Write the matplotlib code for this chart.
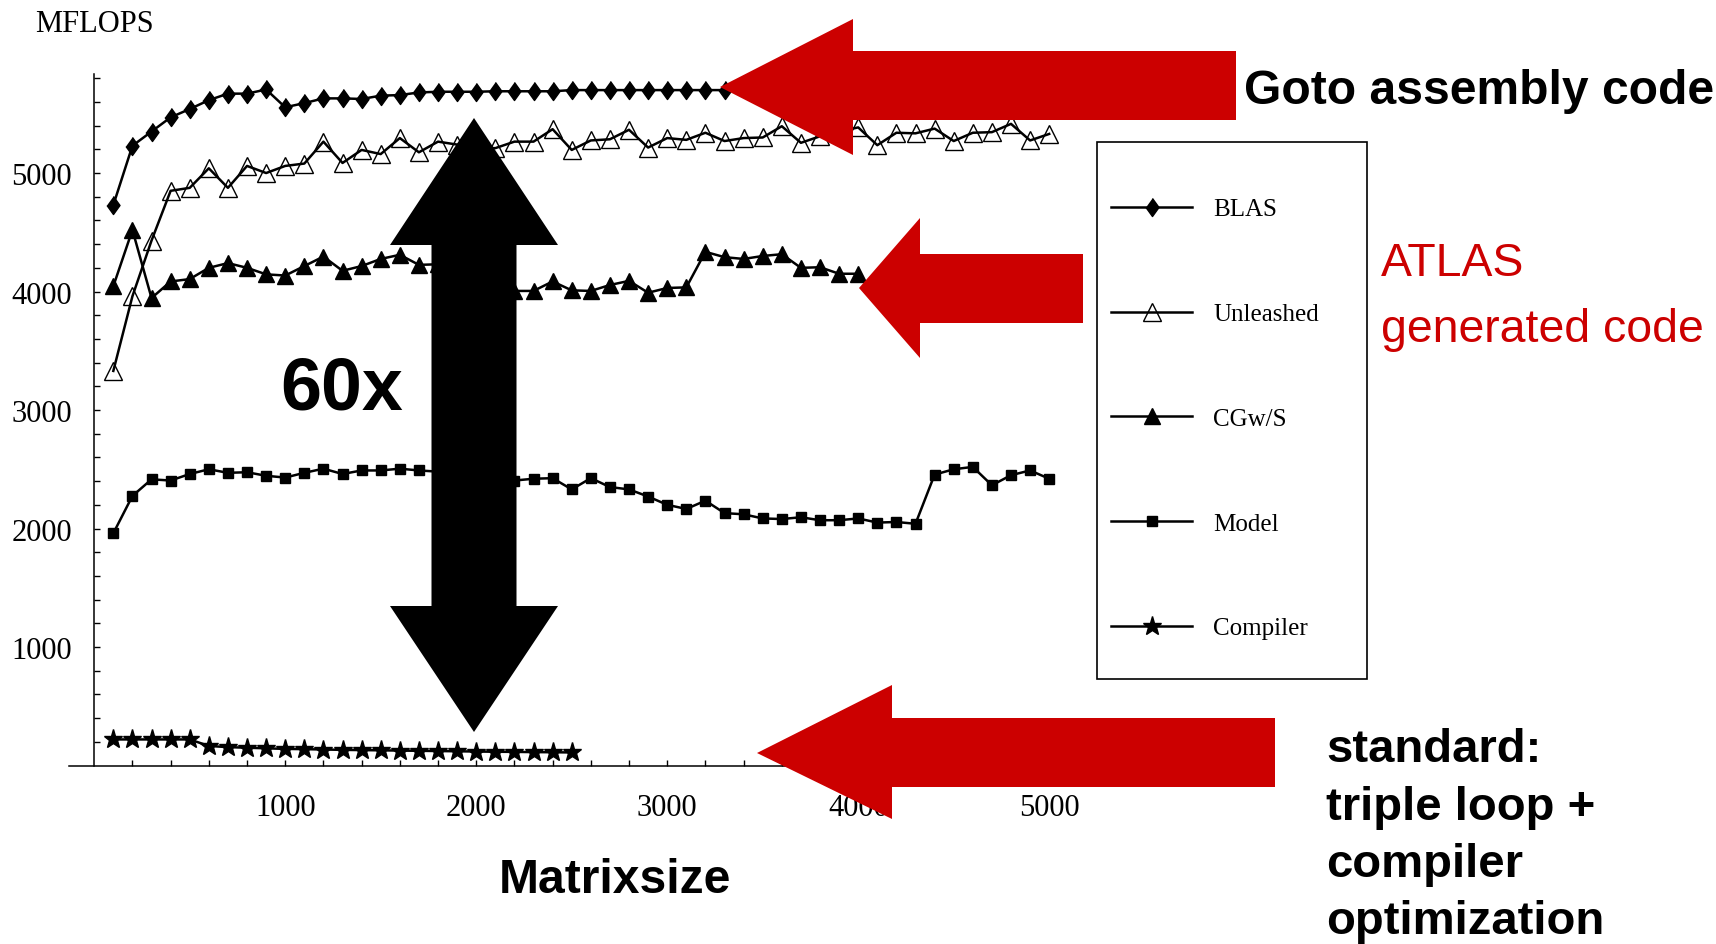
import matplotlib
matplotlib.use("Agg")
import matplotlib.pyplot as plt
from matplotlib.patches import Polygon, Rectangle

# matrix sizes (x) and MFLOPS per code version
sizes = list(range(100, 5100, 100))

blas = [4730, 5230, 5350, 5470, 5540, 5615, 5670, 5670, 5705, 5555,
        5590, 5630, 5630, 5625, 5653, 5658, 5680, 5686, 5686, 5686,
        5690, 5690, 5690, 5690, 5700, 5700, 5700, 5700, 5700, 5700,
        5700, 5700, 5700]

unleashed = [3330, 3960, 4430, 4850, 4875, 5040, 4875, 5060, 5000, 5060,
             5080, 5265, 5085, 5195, 5160, 5295, 5175, 5265, 5240, 5215,
             5210, 5265, 5265, 5370, 5195, 5275, 5285, 5365, 5215, 5295,
             5280, 5340, 5270, 5295, 5300, 5395, 5255, 5310, 5350, 5385,
             5235, 5340, 5335, 5375, 5270, 5340, 5345, 5415, 5275, 5330]

cgws = [4045, 4520, 3945, 4085, 4105, 4200, 4240, 4200, 4145, 4135,
        4215, 4295, 4175, 4215, 4275, 4310, 4225, 4230, 4180, 4100,
        4050, 4005, 4005, 4085, 4010, 4005, 4055, 4090, 3990, 4030,
        4035, 4335, 4290, 4275, 4300, 4315, 4200, 4205, 4150, 4150]

model = [1960, 2275, 2415, 2405, 2460, 2500, 2470, 2475, 2445, 2430,
         2470, 2505, 2460, 2490, 2490, 2505, 2490, 2480, 2470, 2450,
         2420, 2405, 2420, 2425, 2330, 2425, 2350, 2330, 2270, 2200,
         2165, 2235, 2130, 2120, 2085, 2080, 2095, 2070, 2070, 2085,
         2050, 2055, 2040, 2455, 2500, 2520, 2365, 2450, 2490, 2420]

compiler = [220, 220, 220, 220, 220, 165, 155, 150, 145, 140,
            138, 135, 132, 130, 128, 126, 124, 122, 120, 118,
            116, 115, 113, 112, 110]

x_labels = [1000, 2000, 3000, 4000, 5000]
y_labels = [1000, 2000, 3000, 4000, 5000]

W, H = 1716, 945
RED = '#cc0000'
SERIF = 'Liberation Serif'
SANS = 'Liberation Sans'

plt.rcParams['font.family'] = SERIF


def fx(px):
    return px / W


def fy(py):
    return 1 - py / H


fig = plt.figure(figsize=(W / 100, H / 100), dpi=100)
ax = fig.add_axes([fx(69.4), fy(766.5), 1037.1 / W, 692 / H])

diamond = [(0, 1), (0.72, 0), (0, -1), (-0.72, 0)]
lw = 1.8
ax.plot(sizes[:len(blas)], blas, color='black', lw=lw, marker=diamond,
        ms=13, mfc='black', mec='black', label='BLAS')
ax.plot(sizes[:len(unleashed)], unleashed, color='black', lw=lw, marker='^',
        ms=12.5, mfc='none', mec='black', mew=1.0, label='Unleashed')
ax.plot(sizes[:len(cgws)], cgws, color='black', lw=lw, marker='^',
        ms=12, mfc='black', mec='black', label='CGw/S')
ax.plot(sizes[:len(model)], model, color='black', lw=lw, marker='s',
        ms=7.5, mfc='black', mec='black', label='Model')
ax.plot(sizes[:len(compiler)], compiler, color='black', lw=lw, marker='*',
        ms=14, mfc='black', mec='black', label='Compiler')

ax.set_xlim(-130, 5300)
ax.set_ylim(0, 5840)
ax.spines['top'].set_visible(False)
ax.spines['right'].set_visible(False)
ax.spines['left'].set_position(('data', 0))
ax.spines['left'].set_linewidth(1.1)
ax.spines['bottom'].set_linewidth(1.1)

ax.set_xticks(x_labels)
ax.set_xticks(range(200, 5300, 200), minor=True)
ax.set_yticks(y_labels)
ax.set_yticks(range(200, 5900, 200), minor=True)
ax.tick_params(which='both', direction='in', length=4.5, width=1.0)
ax.tick_params(which='major', labelsize=22)
ax.tick_params(axis='y', which='major', pad=16)
ax.tick_params(axis='x', which='major', pad=20)

leg = ax.legend(frameon=False, loc='upper left',
                bbox_to_anchor=(fx(1111), fy(199)),
                bbox_transform=fig.transFigure,
                prop={'family': SERIF, 'size': 18},
                handlelength=3.24, handletextpad=0.84, labelspacing=3.29,
                borderpad=0, borderaxespad=0)
fig.add_artist(Rectangle((fx(1097), fy(680)), (1367 - 1097) / W, (680 - 143) / H,
                         transform=fig.transFigure, fill=False,
                         edgecolor='black', lw=1.2))


def left_arrow(tip_x, tip_y, head_x, head_top, head_bot, body_top, body_bot, end_x):
    pts = [(tip_x, tip_y), (head_x, head_top), (head_x, body_top), (end_x, body_top),
           (end_x, body_bot), (head_x, body_bot), (head_x, head_bot)]
    return Polygon([(fx(a), fy(b)) for a, b in pts], closed=True,
                   transform=fig.transFigure, facecolor=RED, edgecolor='none', zorder=5)


def double_arrow(cx, top, top_base, bot_base, bot, half_head, half_shaft):
    pts = [(cx, top), (cx + half_head, top_base), (cx + half_shaft, top_base),
           (cx + half_shaft, bot_base), (cx + half_head, bot_base), (cx, bot),
           (cx - half_head, bot_base), (cx - half_shaft, bot_base),
           (cx - half_shaft, top_base), (cx - half_head, top_base)]
    return Polygon([(fx(a), fy(b)) for a, b in pts], closed=True,
                   transform=fig.transFigure, facecolor='black', edgecolor='none', zorder=5)


fig.add_artist(left_arrow(720, 88, 853, 20, 156, 52, 121, 1236))
fig.add_artist(left_arrow(859, 289, 920, 219, 359, 255, 324, 1083))
fig.add_artist(left_arrow(757, 754, 892, 686, 820, 719, 788, 1275))
fig.add_artist(double_arrow(474, 119, 246, 607, 733, 84, 42.5))

fig.text(fx(35), fy(24), 'MFLOPS', ha='left', va='center', fontsize=22, family=SERIF)
fig.text(fx(1244), fy(91), 'Goto assembly code', ha='left', va='center',
         fontsize=34.6, fontweight='bold', family=SANS)
fig.text(fx(1381), fy(264.5), 'ATLAS', ha='left', va='center', fontsize=33.4,
         color=RED, family=SANS)
fig.text(fx(1381), fy(329.5), 'generated code', ha='left', va='center', fontsize=33.4,
         color=RED, family=SANS)
fig.text(fx(342), fy(390.5), '60x', ha='center', va='center', fontsize=53,
         fontweight='bold', family=SANS, zorder=6)
fig.text(fx(615), fy(880.5), 'Matrixsize', ha='center', va='center', fontsize=34.6,
         fontweight='bold', family=SANS)

for i, line in enumerate(['standard:', 'triple loop +', 'compiler', 'optimization']):
    fig.text(fx(1326), fy(750.5 + 57.3 * i), line, ha='left', va='center',
             fontsize=34, fontweight='bold', family=SANS)

fig.savefig('out.png', dpi=100)
